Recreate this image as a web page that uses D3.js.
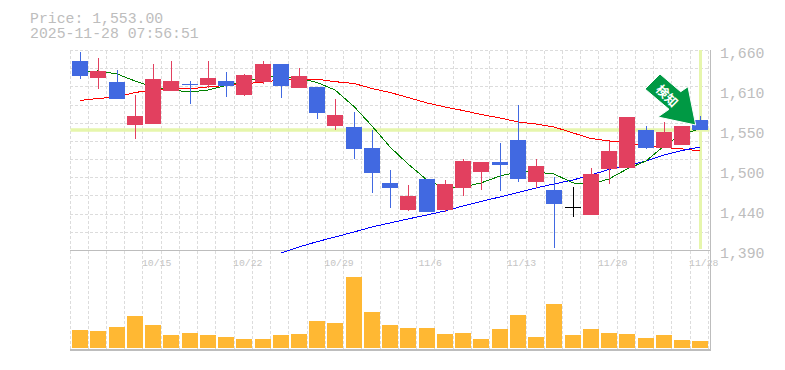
<!DOCTYPE html>
<html>
<head>
<meta charset="utf-8">
<script src="https://cdn.jsdelivr.net/npm/d3@7/dist/d3.min.js"></script>
<style>
    html, body { margin: 0; padding: 0; background: #fff; }
    text { font-family: "Liberation Mono", monospace; fill: #bdbdbd; }
</style>
</head>
<body>
<div id="chart"></div>
<script>
// trading days
var dates = ["10/8", "10/9", "10/10", "10/14", "10/15", "10/16", "10/17", "10/20", "10/21", "10/22", "10/23", "10/24",
    "10/27", "10/28", "10/29", "10/30", "10/31", "11/4", "11/5", "11/6", "11/7", "11/10", "11/11", "11/12", "11/13",
    "11/14", "11/17", "11/18", "11/19", "11/20", "11/21", "11/25", "11/26", "11/27", "11/28"];
var dateTicks = ["10/15", "10/22", "10/29", "11/6", "11/13", "11/20", "11/28"];

// candles
var open = [1645.8, 1622.9, 1617.5, 1559.4, 1560.8, 1605.4, 1614.8, 1613.5, 1618.9, 1600.0, 1617.5, 1641.8,
    1609.4, 1610.8, 1558.1, 1556.8, 1528.4, 1481.2, 1444.7, 1486.6, 1444.7, 1474.4, 1496.0, 1509.5, 1539.2,
    1482.5, 1471.7, 1448.8, 1438.0, 1500.1, 1501.4, 1552.7, 1528.4, 1532.5, 1566.2];
var close = [1625.6, 1632.4, 1594.6, 1571.6, 1621.6, 1618.9, 1613.5, 1622.9, 1612.1, 1626.9, 1641.8, 1612.1,
    1625.6, 1575.7, 1572.9, 1527.1, 1494.7, 1474.4, 1463.6, 1442.0, 1479.8, 1510.9, 1509.5, 1505.5, 1486.6,
    1504.1, 1452.8, 1448.8, 1493.3, 1524.4, 1570.2, 1528.4, 1550.0, 1558.1, 1552.7];
var high = [1658.0, 1649.9, 1633.7, 1600.0, 1641.8, 1645.8, 1618.9, 1645.8, 1631.0, 1628.3, 1645.8, 1641.8,
    1636.4, 1610.8, 1594.6, 1577.0, 1552.7, 1498.7, 1478.5, 1486.6, 1485.2, 1513.6, 1509.5, 1535.2, 1586.5,
    1513.6, 1489.3, 1475.8, 1501.4, 1537.9, 1570.2, 1558.1, 1563.5, 1558.1, 1571.6];
var low = [1621.6, 1608.1, 1594.6, 1540.6, 1560.8, 1605.4, 1587.8, 1609.4, 1597.3, 1598.6, 1614.8, 1595.9,
    1609.4, 1567.5, 1552.7, 1513.6, 1467.7, 1447.4, 1443.4, 1442.0, 1442.0, 1463.6, 1471.7, 1470.4, 1482.5,
    1474.4, 1393.4, 1435.3, 1438.0, 1479.8, 1501.4, 1527.1, 1528.4, 1532.5, 1552.7];

// moving averages, the long one only starts at 10/24
var maShort = [1631.0, 1632.4, 1628.3, 1618.9, 1610.8, 1606.7, 1604.0, 1606.7, 1612.8, 1618.9, 1623.6, 1624.9,
    1622.9, 1616.8, 1606.7, 1584.4, 1558.1, 1529.8, 1506.8, 1485.2, 1474.4, 1475.8, 1481.2, 1490.6, 1496.0,
    1496.0, 1493.3, 1481.2, 1479.8, 1486.6, 1500.0, 1510.9, 1531.1, 1547.3, 1554.0];
var maMid = [1592.5, 1595.2, 1597.3, 1603.3, 1606.7, 1608.7, 1608.1, 1610.8, 1612.8, 1614.8, 1617.5, 1620.2,
    1621.6, 1621.2, 1617.9, 1615.5, 1608.7, 1603.3, 1596.6, 1589.2, 1583.8, 1579.0, 1573.6, 1568.9, 1563.5,
    1560.8, 1556.8, 1548.7, 1541.2, 1537.9, 1535.2, 1531.1, 1529.1, 1527.1, 1524.4];
var maLong = [1386.6, 1394.8, 1401.9, 1408.2, 1415.0, 1421.8, 1427.2, 1432.6, 1437.9, 1443.4, 1450.1, 1456.2,
    1462.3, 1468.3, 1474.4, 1479.8, 1485.2, 1492.0, 1499.4, 1504.1, 1510.9, 1519.0, 1525.0, 1529.8];
var maLongDates = dates.slice(11);

// volume, thousand shares
var volume = [18, 17, 21, 32, 23, 13, 15, 13, 11, 9, 9, 13, 14, 27, 25, 71, 36, 23, 20, 20, 14, 15, 9, 19, 33, 11,
    44, 13, 19, 15, 14, 10, 13, 8, 7];

var priceTicks = [1660, 1606, 1552, 1498, 1444, 1390];
var priceGrid = [1660, 1635.5, 1611, 1586.4, 1561.8, 1537.3, 1512.7, 1488.2, 1463.6, 1439.1, 1414.5, 1390];
var lastPrice = 1553;
var title = ["Price: 1,553.00", "2025-11-28 07:56:51"];

var RED = "#e2405f", BLUE = "#4169e1", GRID = "#dcdcdc", FRAME = "#bdbdbd", MARK = "#e6f6ac";

var svg = d3.select("#chart")
    .append("svg")
    .attr("width", 785)
    .attr("height", 370)
    .style("display", "block");

var x = d3.scaleBand()
    .domain(dates)
    .range([71, 709.4]);

var y = d3.scaleLinear()
    .domain([1390, 1660])
    .range([250.5, 50.5]);

var yVol = d3.scaleLinear()
    .domain([0, 100])
    .range([348, 248]);

var center = function (d) { return Math.round(x(d) + x.bandwidth() / 2); };

// Title
svg.selectAll(".title")
    .data(title)
    .enter()
    .append("text")
    .attr("class", "title")
    .attr("x", 30)
    .attr("y", function (d, i) { return 23 + i * 15; })
    .style("font-size", "14.8px")
    .text(function (d) { return d; });

// Grid, one vertical line per band edge plus the closing one
var grid = svg.append("g")
    .attr("shape-rendering", "crispEdges")
    .attr("stroke", GRID)
    .attr("stroke-dasharray", "3,2");
grid.selectAll(".vgrid")
    .data(dates.concat(["end"]))
    .enter()
    .append("line")
    .attr("x1", function (d, i) { return Math.floor(x.range()[0] + i * x.step()) - 0.5; })
    .attr("x2", function (d, i) { return Math.floor(x.range()[0] + i * x.step()) - 0.5; })
    .attr("y1", 50.5)
    .attr("y2", 350);
grid.selectAll(".hgrid")
    .data(priceGrid)
    .enter()
    .append("line")
    .attr("x1", 70)
    .attr("x2", 710)
    .attr("y1", function (d) { return Math.floor(y(d)) + 0.5; })
    .attr("y2", function (d) { return Math.floor(y(d)) + 0.5; });

// Last price markers
svg.append("rect")
    .attr("x", 70.5)
    .attr("width", 639)
    .attr("y", y(lastPrice) - 1.5)
    .attr("height", 3.5)
    .attr("fill", MARK);
svg.append("rect")
    .attr("x", center(dates[34]) - 1)
    .attr("width", 3)
    .attr("y", 50)
    .attr("height", 199)
    .attr("fill", MARK);

// Frame
var frame = svg.append("g")
    .attr("shape-rendering", "crispEdges")
    .attr("stroke", FRAME);
frame.append("line").attr("x1", 70).attr("x2", 710).attr("y1", 250.5).attr("y2", 250.5);
frame.append("line").attr("x1", 70).attr("x2", 711).attr("y1", 350).attr("y2", 350).attr("stroke-width", 2);
frame.append("line").attr("x1", 710.5).attr("x2", 710.5).attr("y1", 50).attr("y2", 351);

// Axes
var xAxis = svg.append("g")
    .attr("transform", "translate(0,256)")
    .call(d3.axisBottom(x).tickValues(dateTicks).tickSize(0).tickPadding(0));
xAxis.select(".domain").remove();
xAxis.selectAll("text")
    .attr("dx", 3.5)
    .attr("dy", 0)
    .attr("y", 10)
    .style("font-family", "'Liberation Mono', monospace")
    .style("font-size", "9.8px")
    .style("fill", "#c4c4c4");

var yAxis = svg.append("g")
    .attr("transform", "translate(720,0)")
    .call(d3.axisRight(y)
        .tickValues(priceTicks)
        .tickSize(0)
        .tickPadding(0)
        .tickFormat(function (d) { return d3.format(",")(Math.round(d / 10) * 10); }));
yAxis.select(".domain").remove();
yAxis.selectAll("text")
    .attr("dy", 6.5)
    .style("font-family", "'Liberation Mono', monospace")
    .style("font-size", "14.8px")
    .style("fill", "#bdbdbd");

// Volume bars
svg.append("g")
    .attr("shape-rendering", "crispEdges")
    .selectAll("rect")
    .data(volume)
    .enter()
    .append("rect")
    .attr("x", function (d, i) { return center(dates[i]) - 8; })
    .attr("width", 16)
    .attr("y", function (d) { return yVol(d); })
    .attr("height", function (d) { return yVol(0) - yVol(d); })
    .attr("fill", "#ffb833");

// Moving averages
var line = d3.line()
    .x(function (d) { return center(d.date); })
    .y(function (d) { return y(d.value); });
var series = [
    { color: "#ff0000", dates: dates, values: maMid },
    { color: "#0000ff", dates: maLongDates, values: maLong },
    { color: "#008000", dates: dates, values: maShort }
];
svg.append("g")
    .selectAll("path")
    .data(series)
    .enter()
    .append("path")
    .attr("fill", "none")
    .attr("shape-rendering", "crispEdges")
    .attr("stroke", function (d) { return d.color; })
    .attr("stroke-width", 1)
    .attr("d", function (d) {
        return line(d.values.map(function (v, i) { return { date: d.dates[i], value: v }; }));
    });

// Candles
var candleColor = function (i) {
    if (close[i] > open[i]) return RED;
    if (close[i] < open[i]) return BLUE;
    return "#000";
};
var candles = svg.append("g")
    .attr("shape-rendering", "crispEdges")
    .selectAll("g")
    .data(dates)
    .enter()
    .append("g");
candles.append("line")
    .attr("x1", function (d) { return center(d) + 0.5; })
    .attr("x2", function (d) { return center(d) + 0.5; })
    .attr("y1", function (d, i) { return y(high[i]); })
    .attr("y2", function (d, i) { return y(low[i]); })
    .attr("stroke", function (d, i) { return candleColor(i); });
candles.append("rect")
    .attr("x", function (d) { return center(d) - 8; })
    .attr("width", 16)
    .attr("y", function (d, i) { return y(Math.max(open[i], close[i])); })
    .attr("height", function (d, i) { return Math.max(1, y(Math.min(open[i], close[i])) - y(Math.max(open[i], close[i]))); })
    .attr("fill", function (d, i) { return candleColor(i); });

// Signal arrow on the last candle
var arrow = svg.append("g");
arrow.append("path")
    .attr("d", "M660,74L645,89L669,109.3L658,117L695.7,125L688,86.7L680.7,91.7Z")
    .attr("fill", "#009944")
    .attr("stroke", "#fff")
    .attr("stroke-width", 1);
arrow.append("text")
    .attr("transform", "translate(667,96) rotate(45)")
    .attr("text-anchor", "middle")
    .attr("dy", 4.5)
    .style("font-family", "'Noto Sans CJK JP', sans-serif")
    .style("font-size", "12.5px")
    .style("font-weight", "700")
    .style("fill", "#fff")
    .text("検知");
</script>
</body>
</html>
